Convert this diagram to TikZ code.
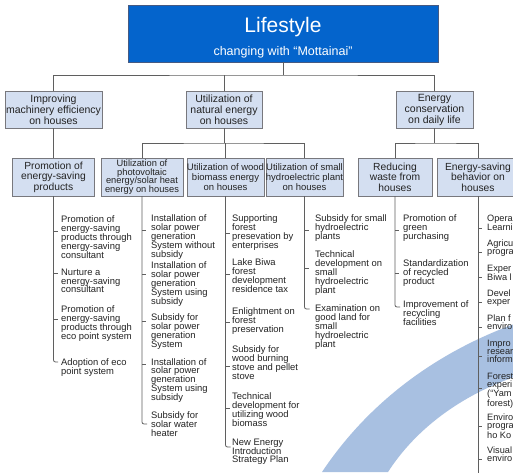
\documentclass[tikz,border=0pt]{standalone}
\usepackage{fontspec}
\setmainfont{Liberation Sans}
\definecolor{topfill}{RGB}{4,100,204}
\definecolor{topline}{RGB}{70,90,130}
\definecolor{boxfill}{RGB}{212,223,241}
\definecolor{boxline}{RGB}{120,120,125}
\definecolor{wirecol}{RGB}{95,95,95}
\definecolor{txt}{RGB}{35,35,35}
\definecolor{band}{RGB}{168,192,225}
\begin{document}
\begin{tikzpicture}[x=1pt,y=-1pt,
  topbox/.style={draw=topline,fill=topfill,minimum width=310pt,minimum height=57pt,inner sep=0pt},
  cat/.style={draw=boxline,fill=boxfill,minimum height=37pt,inner sep=0pt,align=center,text=txt,
    font=\fontsize{10.5}{11}\selectfont},
  sub/.style={draw=boxline,fill=boxfill,minimum height=38pt,inner sep=0pt,align=center,text=txt,
    font=\fontsize{10.3}{10.5}\selectfont},
  leaf/.style={anchor=north west,inner sep=0pt,align=left,text=txt,font=\fontsize{9.4}{8.9}\selectfont},
  leafb/.style={leaf,font=\fontsize{9.2}{8.1}\selectfont},
  wire/.style={draw=wirecol,line width=0.8pt},
  tick/.style={wire},
]
\useasboundingbox (0,0) rectangle (513,472);
\clip (0,0) rectangle (513,472);
\fill[white] (0,0) rectangle (513,472);

% decorative swoosh behind the chart
\fill[band] (322,472) .. controls (370,400) and (440,350) .. (520,322)
  -- (520,375) .. controls (460,395) and (415,430) .. (388,472) -- cycle;

% title
\node[topbox] (top) at (283,33.5) {};
\node[text=white,font=\fontsize{21}{21}\selectfont,anchor=base] (life) at (283,32) {Lifestyle};
\node[text=white,font=\fontsize{12.5}{12.5}\selectfont,anchor=base] (lifesub) at (283,55) {changing with ``Mottainai''};

% second level
\node[cat,minimum width=97pt] (c1) at (53.5,109.5) {Improving\\machinery efficiency\\on houses};
\node[cat,minimum width=76pt] (c2) at (224,109.5) {Utilization of\\natural energy\\on houses};
\node[cat,minimum width=77pt] (c3) at (434.5,109.5) {Energy\\conservation\\on daily life};

% third level
\node[sub,minimum width=82pt] (s1) at (53.5,177) {Promotion of\\energy-saving\\products};
\node[sub,minimum width=82pt,font=\fontsize{9.3}{8.7}\selectfont] (s2) at (142,177)
  {Utilization of\\photovoltaic\\energy/solar heat\\energy on houses};
\node[sub,minimum width=77pt,font=\fontsize{9.5}{10}\selectfont] (s3) at (225.5,177)
  {Utilization of wood\\biomass energy\\on houses};
\node[sub,minimum width=77pt,font=\fontsize{9.5}{10}\selectfont] (s4) at (304.5,177)
  {Utilization of small\\hydroelectric plant\\on houses};
\node[sub,minimum width=74pt] (s5) at (395,177) {Reducing\\waste from\\houses};
\node[sub,minimum width=82pt] (s6) at (478,177) {Energy-saving\\behavior on\\houses};

% tree connectors
\coordinate (bus0) at (283,75);
\coordinate (bus1) at (224,143);
\coordinate (bus2) at (434.5,143);
\draw[wire] (top.south) -- (bus0);
\draw[wire] (c1.north) |- (bus0) -| (c3.north);
\draw[wire] (c2.north) -- (c2.north |- bus0);
\draw[wire] (c1.south) -- (s1.north);
\draw[wire] (c2.south) -- (bus1);
\draw[wire] (s2.north) |- (bus1) -| (s4.north);
\draw[wire] (s3.north) -- (s3.north |- bus1);
\draw[wire] (c3.south) -- (bus2);
\draw[wire] (s5.north) |- (bus2) -| (s6.north);

% column 1
\node[leaf] (l1a) at (61,215.5) {Promotion of\\energy-saving\\products through\\energy-saving\\consultant};
\node[leaf] (l1b) at (61,268.5) {Nurture a\\energy-saving\\consultant};
\node[leaf] (l1c) at (61,305.5) {Promotion of\\energy-saving\\products through\\eco point system};
\node[leaf] (l1d) at (61,358.5) {Adoption of eco\\point system};
\coordinate (e1) at (58,362);
\draw[wire,rounded corners=2pt] (s1.south) |- (e1);
\foreach \y in {231,273,319} \draw[tick] (53.5,\y) -- ++(4,0);

% column 2
\node[leaf] (l2a) at (151,214.5) {Installation of\\solar power\\generation\\System without\\subsidy};
\node[leaf] (l2b) at (151,261.5) {Installation of\\solar power\\generation\\System using\\subsidy};
\node[leaf] (l2c) at (151,313.5) {Subsidy for\\solar power\\generation\\System};
\node[leaf] (l2d) at (151,358) {Installation of\\solar power\\generation\\System using\\subsidy};
\node[leaf] (l2e) at (151,411.5) {Subsidy for\\solar water\\heater};
\coordinate (e2) at (147,424);
\draw[wire,rounded corners=2pt] (s2.south) |- (e2);
\foreach \y in {230,274,321,364} \draw[tick] (142,\y) -- ++(4,0);

% column 3
\node[leaf] (l3a) at (232,214.5) {Supporting\\forest\\presevation by\\enterprises};
\node[leaf] (l3b) at (232,258.5) {Lake Biwa\\forest\\development\\residence tax};
\node[leaf] (l3c) at (232,307.5) {Enlightment on\\forest\\preservation};
\node[leaf] (l3d) at (232,345.5) {Subsidy for\\wood burning\\stove and pellet\\stove};
\node[leaf] (l3e) at (232,392.5) {Technical\\development for\\utilizing wood\\biomass};
\node[leaf] (l3f) at (232,438.5) {New Energy\\Introduction\\Strategy Plan};
\coordinate (e3) at (230.5,447);
\draw[wire,rounded corners=2pt] (s3.south) |- (e3);
\foreach \y in {233,274,322,366,408} \draw[tick] (225.5,\y) -- ++(4,0);

% column 4
\node[leaf] (l4a) at (315,214.5) {Subsidy for small\\hydroelectric\\plants};
\node[leaf] (l4b) at (315,250.5) {Technical\\development on\\small\\hydroelectric\\plant};
\node[leaf] (l4c) at (315,304.5) {Examination on\\good land for\\small\\hydroelectric\\plant};
\coordinate (e4) at (309.5,309);
\draw[wire,rounded corners=2pt] (s4.south) |- (e4);
\foreach \y in {230,268} \draw[tick] (304.5,\y) -- ++(4,0);

% column 5
\node[leaf] (l5a) at (403,214.5) {Promotion of\\green\\purchasing};
\node[leaf] (l5b) at (403,259.5) {Standardization\\of recycled\\product};
\node[leaf] (l5c) at (403,300.5) {Improvement of\\recycling\\facilities};
\coordinate (e5) at (400,307);
\draw[wire,rounded corners=2pt] (s5.south) |- (e5);
\foreach \y in {230,273} \draw[tick] (395,\y) -- ++(4,0);

% column 6 (runs past the page edge)
\node[leafb] (l6a) at (487,214.5) {Opera\\Learni};
\node[leafb] (l6b) at (487,239.5) {Agricu\\progra};
\node[leafb] (l6c) at (487,264.5) {Exper\\Biwa l};
\node[leafb] (l6d) at (487,289.5) {Devel\\exper};
\node[leafb] (l6e) at (487,314.5) {Plan f\\enviro};
\node[leafb] (l6f) at (487,339.5) {Impro\\resear\\inform};
\node[leafb] (l6g) at (487,372.5) {Forest\\experi\\(``Yam\\forest)};
\node[leafb] (l6h) at (487,413.5) {Enviro\\progra\\ho Ko};
\node[leafb] (l6i) at (487,446.5) {Visual\\enviro};
\coordinate (e6) at (478,480);
\draw[wire] (s6.south) -- (e6);
\foreach \y in {228,252,277,302,327,356,388,426,459} \draw[tick] (478,\y) -- ++(4,0);
\end{tikzpicture}
\end{document}
